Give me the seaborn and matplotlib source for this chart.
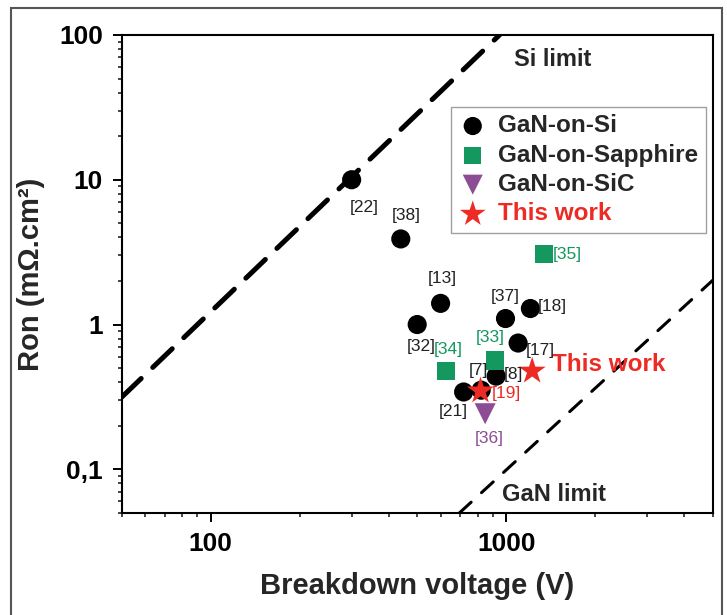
import matplotlib
matplotlib.use("Agg")
import matplotlib.pyplot as plt
import matplotlib.ticker as mticker
from matplotlib.patches import Rectangle
import seaborn as sns
import pandas as pd

# ---------------- data ----------------
si_v = [300, 440, 600, 500, 995, 1208, 1098, 925, 718, 823]
si_r = [10.0, 3.9, 1.40, 1.0, 1.10, 1.29, 0.745, 0.44, 0.342, 0.352]
si_refs = ["[22]", "[38]", "[13]", "[32]", "[37]", "[18]", "[17]", "[8]", "[21]", "[7]"]

sap_v = [1346, 627, 920]
sap_r = [3.05, 0.48, 0.564]
sap_refs = ["[35]", "[34]", "[33]"]

sic_v = [849]
sic_r = [0.242]
sic_refs = ["[36]"]

tw_v = [819, 1225]
tw_r = [0.348, 0.477]
tw_refs = ["[19]", ""]

si_limit_v = [50, 950]
si_limit_r = [0.315, 100]
gan_limit_v = [695, 5000]
gan_limit_r = [0.05, 2.02]

x_ticks = [100, 1000]
x_ticklabels = ["100", "1000"]
y_ticks = [0.1, 1, 10, 100]
y_ticklabels = ["0,1", "1", "10", "100"]

# label offsets in pixels (dx, dy)
offsets = {
    "[22]": (13, -28), "[38]": (5, 23), "[13]": (2, 25), "[32]": (4, -22),
    "[37]": (0, 22), "[18]": (22, 2), "[17]": (22, -7), "[8]": (17, 2),
    "[21]": (-10, -20), "[7]": (-3, 20), "[35]": (23, 0), "[34]": (2, 21),
    "[33]": (-5, 23), "[36]": (4, -25), "[19]": (26, -3),
}

BLACK = "#000000"
GREEN = "#14985f"
PURPLE = "#8c4d94"
RED = "#ee2a24"

sns.set_style("ticks")
plt.rcParams["font.family"] = ["Liberation Sans", "DejaVu Sans"]

fig = plt.figure(figsize=(7.27, 6.15), dpi=100)
ax = fig.add_axes([0.1674, 0.166, 0.8129, 0.7772])

# limit lines
ax.plot(si_limit_v, si_limit_r, color="black", lw=3.6, dashes=(5.4, 3.2),
        solid_capstyle="round", dash_capstyle="round")
ax.plot(gan_limit_v, gan_limit_r, color="black", lw=2.2, dashes=(5.2, 4.6),
        dash_capstyle="round")

groups = [
    ("GaN-on-Si", si_v, si_r, si_refs, "o", BLACK, 190, "#222222"),
    ("GaN-on-Sapphire", sap_v, sap_r, sap_refs, "s", GREEN, 170, GREEN),
    ("GaN-on-SiC", sic_v, sic_r, sic_refs, "v", PURPLE, 230, PURPLE),
    ("This work", tw_v, tw_r, tw_refs, "*", RED, 420, RED),
]

for name, vs, rs, refs, mk, col, size, tcol in groups:
    df = pd.DataFrame({"V": vs, "R": rs})
    sns.scatterplot(data=df, x="V", y="R", marker=mk, color=col, s=size,
                    edgecolor="none", linewidth=0, ax=ax, label=name, zorder=3)
    for v, r, ref in zip(vs, rs, refs):
        if not ref:
            continue
        dx, dy = offsets[ref]
        ax.annotate(ref, (v, r), xytext=(dx, dy), textcoords="offset pixels",
                    ha="center", va="center", fontsize=12.5, color=tcol, zorder=4)

ax.set_xscale("log")
ax.set_yscale("log")
ax.set_xlim(50, 5000)
ax.set_ylim(0.05, 100)

ax.xaxis.set_major_locator(mticker.FixedLocator(x_ticks))
ax.xaxis.set_major_formatter(mticker.FixedFormatter(x_ticklabels))
ax.yaxis.set_major_locator(mticker.FixedLocator(y_ticks))
ax.yaxis.set_major_formatter(mticker.FixedFormatter(y_ticklabels))
ax.xaxis.set_minor_locator(mticker.LogLocator(base=10, subs=range(2, 10)))
ax.yaxis.set_minor_locator(mticker.LogLocator(base=10, subs=range(2, 10)))
ax.xaxis.set_minor_formatter(mticker.NullFormatter())
ax.yaxis.set_minor_formatter(mticker.NullFormatter())

ax.tick_params(which="major", length=6.5, width=1.4, direction="out",
               labelsize=19, pad=7, colors="black")
ax.tick_params(which="minor", length=3, width=1.2, direction="out")
for lab in ax.get_xticklabels() + ax.get_yticklabels():
    lab.set_fontweight("bold")

for sp in ax.spines.values():
    sp.set_visible(True)
    sp.set_linewidth(1.5)
    sp.set_color("black")

ax.set_xlabel("Breakdown voltage (V)", fontsize=21, fontweight="bold", labelpad=12)
ax.set_ylabel("Ron (mΩ.cm²)", fontsize=21, fontweight="bold", labelpad=10)

# text labels
ax.text(1067, 68, "Si limit", fontsize=17, fontweight="bold", ha="left", va="center")
ax.text(971, 0.0673, "GaN limit", fontsize=17, fontweight="bold", ha="left", va="center")
ax.text(1432, 0.526, "This work", fontsize=17.5, fontweight="bold", color=RED,
        ha="left", va="center")

leg = ax.legend(loc="upper left", bbox_to_anchor=(0.557, 0.849), frameon=True,
                fancybox=False, edgecolor="#888888",
                prop={"weight": "bold", "size": 17.5}, handletextpad=0.45,
                labelspacing=0.26, borderpad=0.3, handlelength=1.2,
                borderaxespad=0, markerscale=0.95)
leg.get_frame().set_linewidth(1.0)
leg.get_texts()[3].set_color(RED)

# outer figure frame
fig.patches.append(Rectangle((11 / 727, -0.01), (722 - 11) / 727, 1 - 8 / 615 + 0.01,
                             transform=fig.transFigure, fill=False,
                             edgecolor="#555555", linewidth=1.5))

fig.savefig("out.png", dpi=100)
